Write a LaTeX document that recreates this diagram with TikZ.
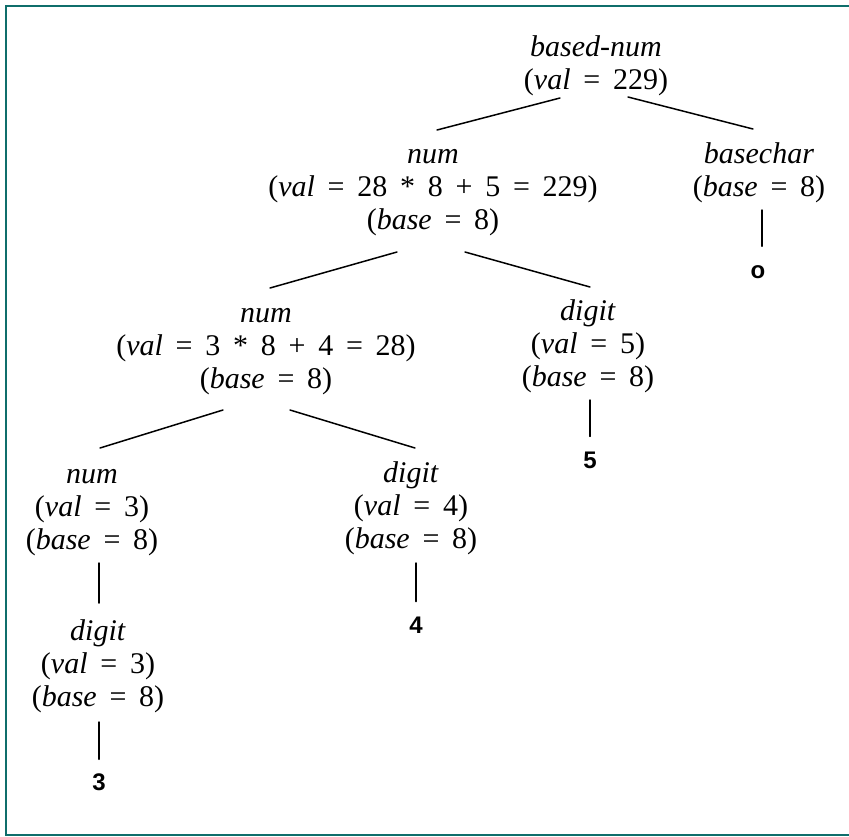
\documentclass[tikz,border=0pt]{standalone}
\usepackage{fontspec}
\setmainfont[WordSpace=1.7]{Liberation Serif}
\newfontfamily\leaffont{Liberation Sans}
\definecolor{framecol}{HTML}{0F6E6B}
\tikzset{
  attr/.style={anchor=north, inner sep=0pt, align=center, font=\fontsize{30}{33}\selectfont},
  leaf/.style={inner sep=0pt, font=\leaffont\bfseries\fontsize{24}{24}\selectfont},
  edge/.style={line width=1.5pt, line cap=round},
  framecolline/.style={draw=framecol, line width=1.9pt},
}
\newcommand{\st}{\rule{0pt}{22pt}}
\begin{document}
\begin{tikzpicture}[x=1pt, y=-1pt]
\useasboundingbox (0,0) rectangle (849,836);
\draw[framecolline] (849,5.8) -- (5.8,5.8) -- (5.8,834.6) -- (849,834.6);

\node[attr] (bn) at (596,34) {\st\textit{based-num}\\(\textit{val} = 229)};
\node[attr] (n1) at (433,141) {\st\textit{num}\\(\textit{val} = 28 * 8 + 5 = 229)\\(\textit{base} = 8)};
\node[attr] (bc) at (759,141) {\st\textit{basechar}\\(\textit{base} = 8)};
\node[attr] (n2) at (266,300) {\st\textit{num}\\(\textit{val} = 3 * 8 + 4 = 28)\\(\textit{base} = 8)};
\node[attr] (d5) at (588,298) {\st\textit{digit}\\(\textit{val} = 5)\\(\textit{base} = 8)};
\node[attr] (n3) at (92,461) {\st\textit{num}\\(\textit{val} = 3)\\(\textit{base} = 8)};
\node[attr] (d4) at (411,460) {\st\textit{digit}\\(\textit{val} = 4)\\(\textit{base} = 8)};
\node[attr] (d3) at (98,618) {\st\textit{digit}\\(\textit{val} = 3)\\(\textit{base} = 8)};

\node[leaf] (lo) at (758,272) {o};
\node[leaf] (l5) at (590,460) {5};
\node[leaf] (l4) at (416,625) {4};
\node[leaf] (l3) at (99,782) {3};

\draw[edge] ([shift={(-36,64)}]bn.north) -- ([shift={(4,-11)}]n1.north);
\draw[edge] ([shift={(32,63)}]bn.north) -- ([shift={(-6,-12)}]bc.north);
\draw[edge] ([shift={(-36,111)}]n1.north) -- ([shift={(4,-12)}]n2.north);
\draw[edge] ([shift={(32,111)}]n1.north) -- ([shift={(2,-11)}]d5.north);
\draw[edge] ([shift={(-43,110)}]n2.north) -- ([shift={(8,-13)}]n3.north);
\draw[edge] ([shift={(24,110)}]n2.north) -- ([shift={(4,-12)}]d4.north);
\draw[edge] ([shift={(7,102)}]n3.north) -- ([shift={(1,-15)}]d3.north);
\draw[edge] ([shift={(1,104)}]d3.north) -- ([shift={(0,-14)}]l3.north);
\draw[edge] ([shift={(5,103)}]d4.north) -- ([shift={(0,-15)}]l4.north);
\draw[edge] ([shift={(2,102)}]d5.north) -- ([shift={(0,-15)}]l5.north);
\draw[edge] ([shift={(3,69)}]bc.north) -- ([shift={(4,-19)}]lo.north);
\end{tikzpicture}
\end{document}
